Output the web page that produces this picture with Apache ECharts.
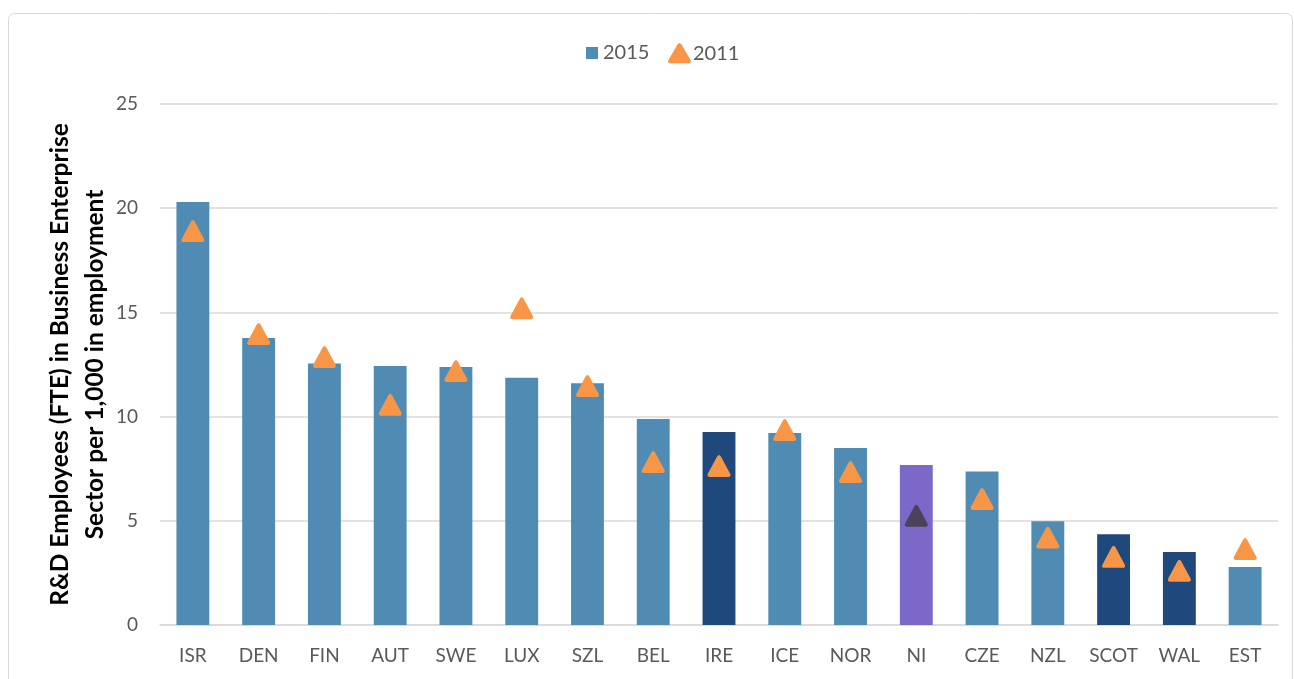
<!DOCTYPE html>
<html>
<head>
<meta charset="utf-8">
<script src="https://cdn.jsdelivr.net/npm/echarts@6/dist/echarts.min.js"></script>
<style>
html, body { margin: 0; padding: 0; background: #fff; }
#chart { width: 1294px; height: 679px; }
</style>
</head>
<body>
<div id="chart"></div>
<script>
var countries = ["ISR", "DEN", "FIN", "AUT", "SWE", "LUX", "SZL", "BEL", "IRE", "ICE", "NOR", "NI", "CZE", "NZL", "SCOT", "WAL", "EST"];
var values2015 = [20.3, 13.77, 12.55, 12.43, 12.38, 11.87, 11.6, 9.88, 9.26, 9.21, 8.49, 7.68, 7.37, 4.98, 4.36, 3.5, 2.78];
var values2011 = [18.9, 13.96, 12.86, 10.57, 12.19, 15.2, 11.47, 7.82, 7.63, 9.36, 7.34, 5.24, 6.05, 4.2, 3.27, 2.6, 3.65];
var yTicks = [0, 5, 10, 15, 20, 25];

// UK regions get other colours
var darkBars = ["IRE", "SCOT", "WAL"];
var purpleBars = ["NI"];

var colBar = "#4f8bb2";
var colDark = "#1f487c";
var colPurple = "#7b68c9";
var colTri = "#f79646";
var colTriNI = "#4b4459";

var triPath = "path://M8.2,1.6 Q10,-1.2 11.8,1.6 L19.6,15 Q21.2,18 17.8,18 L2.2,18 Q-1.2,18 0.4,15 Z";

window.onload = function() {
	var myChart = echarts.init(document.getElementById("chart"));

	var barData = countries.map(function(c, i) {
		var col = colBar;
		if (darkBars.indexOf(c) >= 0) col = colDark;
		if (purpleBars.indexOf(c) >= 0) col = colPurple;
		return { value: values2015[i], itemStyle: { color: col } };
	});
	var triData = countries.map(function(c, i) {
		return { value: values2011[i], itemStyle: { color: c == "NI" ? colTriNI : colTri } };
	});

	myChart.setOption({
		animation: false,
		textStyle: { fontFamily: "Lato" },
		graphic: [{
			type: "rect",
			shape: { x: 8.5, y: 13.5, width: 1284, height: 700, r: 6 },
			style: { fill: null, stroke: "#d9d9d9", lineWidth: 1 },
			silent: true
		}],
		legend: [{
			data: ["2015"],
			left: 581,
			top: 38,
			icon: "rect",
			itemWidth: 12,
			itemHeight: 12,
			itemGap: 5,
			textStyle: { color: "#595959", fontSize: 20, fontFamily: "Lato" }
		}, {
			data: ["2011"],
			left: 663,
			top: 38,
			icon: triPath,
			itemWidth: 23,
			itemHeight: 22,
			itemStyle: { color: colTri, opacity: 1 },
			textStyle: { color: "#595959", fontSize: 20, fontFamily: "Lato", padding: [0, 0, 0, -3] }
		}],
		grid: { left: 160, right: 16, top: 104, bottom: 54 },
		xAxis: {
			type: "category",
			data: countries,
			axisLine: { lineStyle: { color: "#d9d9d9", width: 1.5 } },
			axisTick: { show: false },
			axisLabel: { color: "#595959", fontSize: 19, margin: 21, fontFamily: "Lato" }
		},
		yAxis: {
			type: "value",
			min: yTicks[0],
			max: yTicks[yTicks.length - 1],
			interval: 5,
			name: "R&D Employees (FTE) in Business Enterprise\nSector per 1,000 in employment",
			nameLocation: "middle",
			nameGap: 47,
			nameMoveOverlap: false,
			nameTextStyle: { color: "#000", fontSize: 24.5, fontWeight: "bold", lineHeight: 35, fontFamily: "Lato" },
			axisLine: { show: false },
			axisTick: { show: false },
			axisLabel: { color: "#595959", fontSize: 19, margin: 22, fontFamily: "Lato" },
			splitLine: { lineStyle: { color: "#d9d9d9", width: 1.5 } }
		},
		series: [{
			name: "2015",
			type: "bar",
			barWidth: "50%",
			itemStyle: { color: colBar },
			data: barData
		}, {
			name: "2011",
			type: "scatter",
			symbol: triPath,
			symbolSize: [23, 22],
			itemStyle: { color: colTri, opacity: 1 },
			data: triData,
			z: 5
		}]
	});
};
</script>
</body>
</html>
